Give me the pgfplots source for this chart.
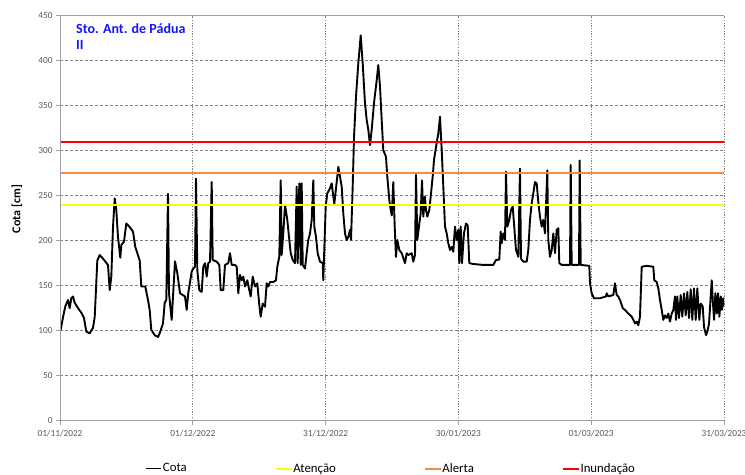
\documentclass[border=0pt]{standalone}
\usepackage{pgfplots}
\pgfplotsset{compat=1.18}
\usepackage{pgfplotstable}
\usepackage{fontspec}
\setmainfont{Carlito}
\definecolor{tickgray}{RGB}{89,89,89}
\definecolor{gridgray}{RGB}{128,128,128}
\definecolor{axgray}{RGB}{160,160,160}
\definecolor{atencao}{RGB}{255,255,0}
\definecolor{alerta}{RGB}{245,140,70}
\definecolor{inund}{RGB}{255,0,0}
\definecolor{titleblue}{RGB}{20,20,255}

\pgfplotstableread{
x y
0.00 100
0.16 101
0.68 115
1.20 127
1.81 134
2.19 125
2.55 136
2.94 138
3.32 131
4.07 125
4.81 120
5.42 114
5.94 99
6.71 97
7.45 103
7.84 115
8.43 178
8.97 184
9.71 180
10.84 173
11.23 145
11.59 160
11.97 215
12.36 247
12.72 234
13.10 204
13.62 181
13.85 195
14.46 199
14.98 219
15.75 215
16.49 210
17.01 193
18.00 178
18.37 149
19.27 149
19.88 134
20.26 123
20.62 101
21.39 95
22.14 93
22.52 97
23.27 108
23.65 131
24.01 134
24.40 252
24.62 142
25.23 112
25.98 177
26.50 164
27.11 141.5
28.24 138
28.62 123
28.98 142
29.75 165.5
30.11 169
30.50 171
30.72 269
31.02 167
31.47 145
32.01 143
32.37 171
32.76 175
33.14 160
33.50 175
33.89 176.6
34.27 265
34.50 178.5
35.40 176.6
35.99 173
36.30 145
36.89 145
37.27 173
38.02 175
38.40 186
38.79 173
39.53 173
39.92 171
40.28 141.5
40.66 162
41.05 156
41.41 160
41.79 149
42.31 156
42.76 145
43.08 138
43.53 160
44.05 149
44.57 152.6
45.02 128.5
45.34 115.5
45.79 130
46.31 126.6
46.69 152.6
47.06 149
47.44 154
48.18 154
48.79 156
49.09 171
49.54 182
49.86 267
50.08 184
50.44 208
50.83 240
51.35 223
51.80 200.7
52.12 186
52.57 178.5
53.09 175
53.47 260
53.70 175
54.06 263.6
54.38 173
54.60 263.6
54.83 173
55.35 169
55.73 186
56.09 200.7
56.48 208
56.86 223
57.22 267
57.45 215.5
57.83 204
58.21 186
58.73 176.6
59.34 175
59.48 156
60.02 237.7
60.38 252.5
60.99 258
61.38 263.6
61.74 248.8
61.97 241
62.35 258
62.87 282
63.25 271
63.64 260
64.00 230
64.38 208
64.77 200.7
65.13 204
65.51 212
65.74 200.7
66.12 260
66.42 315
66.87 360
67.39 397
67.93 428
68.38 397
68.90 352.5
69.28 334
69.65 323
70.03 306
70.41 323
70.93 352.5
71.54 378
71.90 395
72.29 371
72.67 334
73.03 300.6
73.64 293
73.94 271
74.39 245
74.71 234
74.95 228
75.29 265
75.61 215.5
75.90 182
76.20 200.7
76.65 189.6
77.19 186
77.94 175
78.32 186
78.68 184
79.45 186
79.81 176.6
80.20 184
80.42 273
80.72 200.7
81.17 219
81.48 230
81.78 267
82.07 226.6
82.45 248.8
82.68 234
82.97 226.6
83.43 234
83.74 248.8
84.19 271
84.49 289.5
84.94 304
85.46 319
85.84 337.6
86.23 300.6
86.59 260
86.97 215.5
87.36 208
87.72 197
88.10 189.6
88.49 193
88.85 187.7
89.23 215.5
89.62 200.7
89.98 212
90.20 175
90.52 215.5
90.81 175
91.26 208
91.72 219
92.10 217
92.46 175
93.36 174
95.62 173
97.88 173
98.49 178.5
99.24 179
99.55 210
99.78 197
100.14 208
100.53 200.7
100.75 276.6
101.05 215.5
101.50 223
101.88 234
102.27 237.7
102.56 219
103.01 189.6
103.53 182
103.91 280
104.14 180
104.66 176.6
105.43 176.6
105.79 189.6
106.17 223
106.56 241.5
106.92 252.5
107.30 265
107.69 263.6
108.05 243
108.43 226.6
108.82 215.5
109.18 223
109.56 208
110.08 278
110.31 200.7
110.69 182
111.08 189.6
111.44 208
111.82 186
112.21 212
112.57 213.7
112.79 175
113.33 173
115.21 173
115.37 284
115.59 173
117.24 173
117.40 289
117.63 173
119.57 172
119.73 152.6
120.11 141.5
120.63 136
121.99 136
123.34 138
123.50 141.5
123.86 138
124.99 139.6
125.37 152.6
125.76 139.6
126.12 138
126.51 134
127.12 125
127.64 123
128.39 119
129.15 115.5
129.52 112
129.90 108
130.28 110
130.64 106
131.02 115.5
131.41 171
132.54 172
134.03 171
134.25 156
134.80 154
135.16 147
135.54 134
135.93 123
136.29 112
136.68 117
137.06 114
137.42 119
137.80 110
138.19 119
138.55 123
138.93 138
139.15 112
139.45 138
139.83 114
140.22 139.6
140.58 115.5
140.96 141.5
141.35 117
141.71 143
142.09 114
142.48 146
142.84 112
143.22 147
143.61 112
143.97 147
144.42 112
144.74 130
145.19 127
145.49 104
145.94 95
146.33 100.7
146.62 108
146.85 126.6
147.23 156
147.46 134
147.76 112
148.05 141.5
148.37 119
148.66 141.5
148.96 115.5
149.28 138
149.55 123
149.85 136
150.00 127
}\cota

\begin{document}
\begin{tikzpicture}
\path[use as bounding box] (-60bp,-54.3bp) rectangle (685bp,420.7bp);
\begin{axis}[
  name=ax,
  at={(0,0)}, anchor=south west,
  scale only axis, width=664bp, height=405.2bp,
  xmin=0, xmax=150, ymin=0, ymax=450,
  xtick={0,30,60,90,120,150},
  xticklabels={01/11/2022,01/12/2022,31/12/2022,30/01/2023,01/03/2023,31/03/2023},
  ytick={0,50,...,450},
  /pgf/number format/assume math mode=true,
  tick label style={font=\fontsize{9.3bp}{11bp}\selectfont, text=tickgray},
  xticklabel style={yshift=-1.5bp},
  xtick pos=bottom, ytick pos=left,
  tick align=outside, major tick length=4bp,
  tick style={axgray, line width=0.8bp},
  xmajorgrids, ymajorgrids,
  x grid style={gridgray, line width=0.8bp, dash pattern=on 1.2bp off 1.5bp},
  y grid style={gridgray, line width=0.8bp, dash pattern=on 3bp off 2bp},
  axis line style={draw=none},
  legend columns=4,
  legend style={draw=none, fill=none, at={(rel axis cs:0.4973,-0.118)}, anchor=center,
    font=\fontsize{12.8bp}{15bp}\selectfont,
    /tikz/every even column/.append style={column sep=88bp},
    nodes={inner sep=0.5bp}},
  legend image code/.code={\draw[#1] (0bp,0bp) -- (15.6bp,0bp);},
  clip mode=individual,
]
\addplot[black, line width=1.9bp, line join=round] table[x=x,y=y] {\cota};
\addlegendentry{Cota}
\addplot[atencao, line width=2bp] coordinates {(0,240) (150,240)};
\addlegendentry{Atenção}
\addplot[alerta, line width=2bp] coordinates {(0,275) (150,275)};
\addlegendentry{Alerta}
\addplot[inund, line width=2bp] coordinates {(0,310) (150,310)};
\addlegendentry{Inundação}
\node[anchor=base west, font=\bfseries\fontsize{14bp}{17bp}\selectfont, text=titleblue, inner sep=0pt] at (rel axis cs:0.0241,0.9568) {Sto. Ant. de Pádua};
\node[anchor=base west, font=\bfseries\fontsize{14bp}{17bp}\selectfont, text=titleblue, inner sep=0pt] at (rel axis cs:0.0241,0.9149) {II};
\end{axis}
\node[rotate=90, anchor=center, inner sep=0pt, font=\bfseries\fontsize{12bp}{14bp}\selectfont] at (-43bp,211.7bp) {Cota [cm]};
\draw[axgray, line width=0.9bp] (ax.north west) -- (ax.south west) -- (ax.south east);
\draw[axgray, line width=0.9bp] (ax.north west) -- (ax.north east);
\end{tikzpicture}
\end{document}
